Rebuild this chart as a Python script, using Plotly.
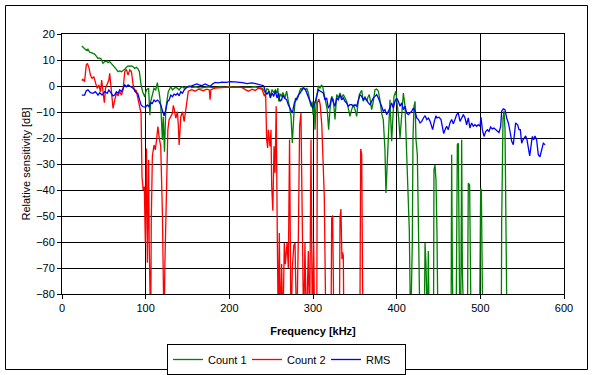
import plotly.graph_objects as go

# ---------------- data ----------------
count1_x = [23.7, 26, 29, 31, 33, 35, 37, 39, 41, 43, 45, 47, 49, 51, 53, 55, 57, 59, 61, 63, 65, 67, 69, 71, 73, 75, 77, 79, 81, 83, 85, 87, 89, 91, 92.5, 93.5, 94.5, 96.4, 98, 99, 100, 101, 103.5, 105, 106, 107.5, 110, 112, 114, 115, 116, 118, 120, 121, 122.5, 124, 126, 127, 130, 132, 134, 136, 138, 140, 142, 144, 146, 148, 150, 152,
            155, 160, 165, 170, 175, 180, 185, 190, 195, 200, 205, 210, 215, 220, 225, 230, 235, 239, 241, 243, 245, 247, 249, 251, 253, 255, 257, 258, 259, 261, 262.5, 264, 266.5, 268.5, 270.5, 272, 273.7, 275.3, 277, 279, 280.5, 282.5, 284, 285.6, 287, 288.4, 291, 292.5, 294.4, 296, 297.6, 299, 300, 301.5, 302.4, 304, 306.4, 308.4, 310, 311.5, 313, 315.5, 317, 318.7, 320.3, 322.3, 324.3, 326.3, 328.3, 330.3, 332.3, 334.2, 336.2, 338.2, 340.2, 342.2, 344.2, 346.2, 348.2, 350.2, 352.2, 354, 355.4, 358.2, 360.1, 362.1, 364.1, 366, 367.3, 368.7, 370.1, 372.1, 374.1, 376.1, 378.1, 380, 382, 384, 386, 387.2, 388.4, 390, 392, 394, 395.2, 396.8, 399, 400.8, 402.4, 404, 406, 408, 410, 412, 414, 415.1, 416.7, 418.7, 419.5, 420.7, 422, 423.1, 424.7, 426.3, 428, 433, 433.9, 435, 436, 437, 437.8, 439, 444, 444.6, 445.8, 447, 448.2, 449.4, 465, 465.7, 466.5, 467.5, 471, 471.7, 472.5, 473.7, 474.5, 475.5, 476.5, 476.9, 477.7, 478.5, 479.7, 480.5, 484.5, 485, 485.6, 487.2, 488, 489, 499, 499.6, 500.4, 501.2, 502, 503, 525, 525.5, 527.1, 528.3, 529.5, 530.7, 531.9]
count1_y = [15.4, 14.8, 13.8, 14.2, 13.0, 12.8, 12.5, 12.3, 11.5, 10.6, 10.8, 10.3, 8.7, 9.4, 9.6, 9.0, 9.4, 8.7, 8.2, 7.4, 6.4, 5.5, 5.8, 5.5, 5.9, 6.4, 7.2, 7.7, 7.6, 7.7, 7.4, 6.8, 7.2, 6.5, 5.5, 2.5, 0.4, -2.2, -3.5, -4.2, -2.5, -1.5, -0.9, -11.2, -6, -4.1, -0.9, -1.5, 1.3, -1, -2.2, -7.3, -20.8, -11.8, -25.3, -9.2, -4, -2.2, -0.3, -1.5, -0.9, -0.5, -0.9, -1.5, -0.6, -0.3, -0.8, -0.3, -0.2, 0,
            -0.6, -0.3, -0.8, -0.5, -0.3, -0.6, -0.4, -0.3, -0.5, -0.2, -0.4, -0.3, -0.6, -0.4, -0.5, -0.3, -0.6, -0.8, -1.5, -2.7, -1.0, -1.4, -4, -1.4, -2.5, -1.5, -2.7, -0.8, -5.9, -3, -4, -2.5, -4.6, -2, -5.9, -8, -11.7, -21.9, -11.7, -4.6, -5.5, -4, -2, -0.8, -1.5, -0.4, -1.4, -0.8, -2.7, -5, -7.8, -6, -11, -6, -16.8, -5, 0, -0.8, 0.3, -0.1, -2.7, -6.5, -9.1, -16.8, -9.1, -4, -5.3, -12.9, -3.3, -4.5, -2.7, -4.6, -3.3, -4.5, -5.9, -8.5, -11.7, -9.1, -7.2, -9, -11.7, -6, -3.3, -1.7, -5.9, -4, -5.9, -4, -3.3, -6, -9.1, -5.9, -1.4, -1.2, -2, -5.3, -10.4, -12.9, -24.5, -41.1, -32.1, -20.6, -5.3, -21.2, -10.4, -4, -2, -6.5, -12.3, -20, -11.7, -2.7, -7.8, -23.8, -45, -55.3, -95, -60.3, -20, -7.8, -5.9, -20.6, -26.4, -52.7, -95, -95, -60.3, -68, -95, -95, -63.5, -95, -95, -32.1, -30.4, -36.2, -56.7, -95, -95, -26.4, -66.2, -95, -95, -56.7, -22.6, -22, -55.4, -95, -95, -66.2, -20.7, -71, -78.7, -95, -95, -66, -37.4, -38.1, -73.5, -95, -95, -68.5, -39.4, -40, -74.8, -95, -95, -52.7, -12.3, -9.7, -16.8, -52.7, -95]

count2_x = [23.7, 25, 27, 28, 29, 30.4, 32.4, 34, 36, 38, 40, 42, 44, 46, 47.4, 49, 50.6, 52, 54, 56, 57, 58.5, 60, 61, 63, 65, 67, 69, 71, 73, 74, 75, 77, 79, 81, 83, 85, 87, 88.5, 90.5, 92.5, 94.5, 95.6, 97, 98.4, 99.6, 100.3, 101, 102, 103, 103.5, 104.2, 105, 106, 106.7, 108, 110, 111.5, 113, 114.6, 116, 118, 120, 121, 122, 123, 125, 126.5, 128, 130, 132, 133, 134, 136, 138, 139, 140, 142, 144, 146, 148, 150,
            151, 155, 159, 163, 169, 173, 176, 177, 178, 183, 191, 199, 207, 215, 219, 223, 227, 231, 235, 239, 242, 243.4, 244.6, 245.8, 246.6, 248.6, 249.8, 250.6, 252, 253.4, 254.6, 256, 257.4, 258.5, 259.7, 261, 262.5, 264, 265.7, 267, 269, 270.5, 272, 273.7, 275.3, 277, 278.5, 280.5, 282.5, 284, 285.6, 287, 288.8, 290.4, 292, 294.4, 296, 297.6, 299.2, 300.8, 302, 304.5, 305.2, 307, 308.5, 310.5, 312.3, 313.5, 314.7, 315.5, 321.5, 322.3, 323.5, 324.3, 325, 331.5, 332.3, 333.4, 334.6, 335.4, 336.2, 337, 356, 357, 358.2, 359.3, 360.2]
count2_y = [2.1, 2.6, 1.7, 4, 8.1, 8.7, 6.8, 4.2, 2.9, 3.6, 1.7, -0.9, 0.4, -2.2, 2.3, -2.8, -6.4, -0.9, 1, 2.3, 4.9, 0.4, -4, -8.6, -5.4, -2.8, -3.8, -2.2, -3.5, -1.5, 2, 5.5, 6.4, 4.2, 6.2, 5.5, 0.4, -2.2, -1.5, -4.1, -7.9, -10.5, -34.9, -40, -38.7, -60.5, -40, -24, -68, -40, -28.5, -60, -95, -95, -52, -27, -22.7, -24.6, -20.8, -15.6, -19.5, -23.3, -49, -95, -95, -68, -29.7, -16.9, -13, -11.8, -10.5, -7.5, -8.6, -12.4, -9.9, -15, -22.7, -11.8, -9.9, -13.7, -8.6, -3.5,
            -2, -1.4, -2, -1.2, -1.8, -1.2, -1.5, -5.3, -1.4, -0.8, -0.5, -0.4, -0.5, -0.5, -1.4, -2, -1.2, -1.7, -0.8, -1.2, -4, -2.7, -20.6, -23.8, -16.8, -23.2, -16.8, -38.2, -48, -23.2, -33.5, -7.8, -60.3, -95, -56.5, -95, -68.5, -95, -60.3, -68.5, -60.3, -70, -20.6, -95, -70, -61.5, -60.3, -95, -58, -15.5, -10.4, -55, -95, -60.3, -95, -63.5, -95, -20.6, -95, -60.3, -95, -95, -6.5, -5, -7, -15, -33.5, -42.5, -75.6, -95, -95, -51, -49.8, -78.7, -95, -95, -50.5, -47.3, -66.5, -64, -65.3, -95, -95, -24.2, -26.2, -77.5, -95]

rms_x = [23.7, 27, 29, 31, 34, 37, 40, 43, 45, 48, 51, 54, 56, 59, 61, 63, 65, 67, 69, 71, 73, 75, 77, 79, 81, 83, 85, 87, 88.5, 90.5, 92.5, 94.5, 96.4, 99.6, 102, 104, 106, 108, 110, 112, 114, 116, 118, 120, 122, 124, 126, 128, 130, 132, 134, 136, 138, 140, 142, 144, 146, 148, 150,
         151, 155, 158, 161, 164, 167, 171, 174, 177, 180, 183, 187, 191, 196, 201, 206, 211, 216, 221, 224, 227, 230, 233, 237, 241, 243, 245, 247, 249, 251, 253, 255, 257, 259, 260.5, 262.5, 264, 266, 268.5, 270.5, 273.7, 275.3, 277.7, 280.5, 282.5, 284.5, 286.5, 288.4, 291, 294, 297.6, 299.6,
         302.4, 304.4, 306.4, 309, 312.3, 314.3, 316.3, 318.3, 320.3, 322.3, 324.3, 326.3, 328.3, 330.3, 332.3, 334.2, 336.2, 338.2, 340.2, 342.2, 344.2, 346.2, 348.2, 350.2, 352.2, 354.2, 356.2, 358.2, 360.1, 362.1, 364.1, 366.1, 368.1, 370.1, 372.1, 374.1, 376.1, 378.1, 380, 382, 384, 386, 388, 390, 392, 394, 396, 398, 400, 402, 404, 406, 408, 410, 412, 414, 416, 418, 420, 422, 424, 426, 428, 430, 432, 434, 436, 438, 440, 443, 445, 447,
         448, 450.6, 453, 454.6, 456.2, 457.8, 459.7, 461.7, 463.7, 465.7, 467.7, 469.7, 471.7, 473.7, 475.7, 477.7, 479.7, 481.7, 483.6, 485.6, 487.6, 489.6, 491.6, 493.6, 495.6, 497.6, 499.6, 500.8, 502.4, 504.4, 506.4, 508.4, 510.3, 512.3, 514.3, 516.3, 518.3, 520.3, 522.3, 524.3, 525.5, 527.5, 529.5, 531.5, 533.5, 535.5, 537.5, 539.4, 540.6, 542.2, 544.6, 546.2, 547.8, 549.4, 551, 552.6, 554.2, 555.8, 557.4, 559, 560.5, 562.1, 563.7, 565.3, 567.3, 569.3, 571.3, 573.3, 575.3, 577.3]
rms_y = [-3.5, -3.5, -1.8, -1.5, -2.6, -2.8, -2.2, -3.5, -2.6, -3.5, -2.2, -2.8, -1.5, -3.1, -3.8, -3.5, -2.2, -2.8, -1.5, -2.2, -0.9, 0.4, -0.3, 0.4, 0, -0.3, -0.9, -1.5, -2.6, -2.8, -5.4, -7.3, -7.9, -8.2, -7.3, -7.9, -6.4, -6.7, -5.4, -6, -5.4, -6, -7.3, -9.2, -11.5, -9.2, -6, -5.4, -3.5, -4.1, -3.1, -3.5, -2.8, -3.8, -2.2, -2.8, -1.5, -0.9, -0.3,
         -0.4, 0.1, 0.5, 0.8, 0.4, 0.1, 0.8, 0.5, -0.1, 0.8, 1.4, 1.2, 1.5, 1.4, 1.7, 1.6, 1.5, 1.3, 0.9, 1.0, 1.2, 1.0, 0.8, 0.5, 0.1, -2, -3.3, -2, -4.6, -2.7, -4, -2, -4.6, -2.7, -5.9, -5.3, -3.5, -4.6, -5.3, -7.2, -9.1, -10.4, -6.5, -4.6, -3.5, -2.7, -1.5, -0.8, -1.4, -4, -7.2, -8.5,
         -6.5, -4, -1.4, -2, -2.7, -5.3, -4.6, -8.5, -7.2, -4.6, -5.9, -7.8, -4.6, -5.3, -3.3, -5.3, -4.6, -5.9, -6.5, -7.8, -7.2, -7.2, -7.8, -7.2, -7.8, -5.9, -3.3, -4, -5.3, -4.6, -5.3, -6.5, -7.2, -5.9, -4.6, -4, -3.3, -4.6, -5.9, -7.8, -9.7, -9.1, -11, -9.7, -8.5, -6.5, -8.5, -5.9, -4.6, -5.9, -7.8, -6.5, -9.1, -7.8, -10.4, -11, -10.4, -9.7, -8.5, -9.7, -12.3, -12.9, -14.2, -13.6, -12.3, -11.4, -12.9, -12.3, -13.6, -16.8, -13.6, -11.4,
         -12.3, -12, -12.9, -15.5, -18.3, -16.8, -15.5, -16.8, -14.2, -12.9, -14.5, -12.9, -11, -10.4, -13.6, -12.3, -11, -12.3, -14.9, -12.3, -16.2, -14.2, -15.5, -14.9, -15.5, -14.9, -15.5, -12, -16.8, -19.4, -17.5, -16.8, -17.5, -15.8, -16.5, -16.2, -16.8, -17.5, -17.9, -15.5, -9.7, -8.8, -9.1, -12.3, -14.2, -17.5, -21.3, -22.6, -18.1, -14.2, -14.9, -16.8, -16.8, -22, -20.7, -20, -19.2, -20.7, -24.5, -26.9, -23.3, -19.4, -20.7, -19.2, -20.7, -26.4, -27.2, -24.5, -22, -22.6]

x_ticks = [0, 100, 200, 300, 400, 500, 600]
y_ticks = [20, 10, 0, -10, -20, -30, -40, -50, -60, -70, -80]

# ---------------- figure ----------------
FONT = "Liberation Sans, Arial, sans-serif"
fig = go.Figure()
fig.add_trace(go.Scatter(x=count1_x, y=count1_y, mode="lines", name="Count 1",
                         line=dict(color="#008000", width=1.3)))
fig.add_trace(go.Scatter(x=count2_x, y=count2_y, mode="lines", name="Count 2",
                         line=dict(color="#FF0000", width=1.3)))
fig.add_trace(go.Scatter(x=rms_x, y=rms_y, mode="lines", name="RMS",
                         line=dict(color="#0000FF", width=1.3)))

W, H = 594, 375
L, R, T, B = 62, 30, 34, 81
pw, ph = W - L - R, H - T - B

def px_to_paper_x(px):
    return (px - L) / pw

def px_to_paper_y(py):
    return (H - B - py) / ph

fig.update_layout(
    width=W, height=H,
    margin=dict(l=L, r=R, t=T, b=B, autoexpand=False),
    paper_bgcolor="white", plot_bgcolor="white",
    font=dict(family=FONT, size=11, color="black"),
    showlegend=True,
    legend=dict(orientation="h", x=px_to_paper_x(167), xanchor="left",
                y=px_to_paper_y(344), yanchor="top",
                bordercolor="black", borderwidth=1, bgcolor="white",
                font=dict(family=FONT, size=11), itemwidth=30,
                entrywidth=34, entrywidthmode="pixels",
                tracegroupgap=0),
    shapes=[dict(type="rect", xref="paper", yref="paper",
                 x0=px_to_paper_x(5.5), x1=px_to_paper_x(587.5),
                 y0=px_to_paper_y(369.5), y1=px_to_paper_y(5.5),
                 line=dict(color="black", width=1), layer="below")],
)
fig.update_xaxes(range=[0, 600], tickvals=x_ticks, showgrid=True, gridcolor="black",
                 gridwidth=1, showline=True, linecolor="black", linewidth=1, mirror=True,
                 ticks="outside", ticklen=4, tickcolor="black", zeroline=False,
                 automargin=False,
                 title=dict(text="<b>Frequency [kHz]</b>", font=dict(family=FONT, size=11), standoff=14))
fig.update_yaxes(range=[-80, 20], tickvals=y_ticks, showgrid=True, gridcolor="black",
                 gridwidth=1, showline=True, linecolor="black", linewidth=1, mirror=True,
                 ticks="outside", ticklen=4, tickcolor="black", zeroline=False,
                 automargin=False,
                 title=dict(text="Relative sensitivity [dB]", font=dict(family=FONT, size=11), standoff=3))

fig.write_html("out.html", config={"displayModeBar": False},
               post_script="document.body.style.margin='0';document.body.style.overflow='hidden';")
